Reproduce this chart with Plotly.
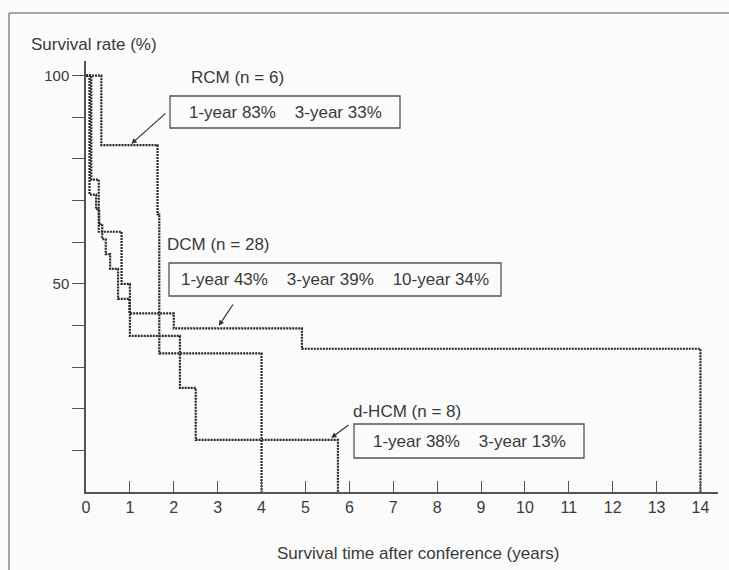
import plotly.graph_objects as go

# ---- data ----
rcm_t = [0, 0.35, 1.63, 1.67, 4.0]
rcm_s = [100, 83.3, 66.7, 33.3, 0]

dcm_t = [0, 0.08, 0.23, 0.30, 0.37, 0.45, 0.55, 0.73, 0.99, 2.0, 4.92, 14.0]
dcm_s = [100, 71.4, 67.9, 64.3, 60.7, 57.1, 53.6, 46.4, 42.9, 39.3, 34.4, 0]

hcm_t = [0, 0.12, 0.29, 0.81, 1.0, 2.14, 2.5, 5.74]
hcm_s = [100, 75.0, 62.5, 50.0, 37.5, 25.0, 12.5, 0]

x_ticks = list(range(0, 15))
y_ticks = [10, 20, 30, 40, 50, 60, 70, 80, 90, 100]
y_ticktext = ["", "", "", "", "50", "", "", "", "", "100"]

labels = ["RCM (n = 6)", "DCM (n = 28)", "d-HCM (n = 8)"]
GAP = "\u00a0\u00a0\u00a0 "
box_texts = ["1-year 83%" + GAP + "3-year 33%",
             "1-year 43%" + GAP + "3-year 39%" + GAP + "10-year 34%",
             "1-year 38%" + GAP + "3-year 13%"]

# ---- layout helpers (pixel -> paper) ----
L, R, T, B = 86, 718, 61, 492
W, H = R - L, B - T
XMAX, YMAX = 14.4, 103.5
def px(x):
    return (x - L) / W
def py(y):
    return (B - y) / H
def dx2px(v):
    return L + v * W / XMAX
def dy2py(v):
    return B - v * H / YMAX

FONT = "Liberation Sans, Arial, sans-serif"
INK = "#3a3a3a"
FS = 17

fig = go.Figure()
for t, s in [(rcm_t, rcm_s), (dcm_t, dcm_s), (hcm_t, hcm_s)]:
    fig.add_trace(go.Scatter(x=t, y=s, mode="lines", line_shape="hv",
                             line=dict(color="#262626", width=2.2, dash="2px,1px"),
                             showlegend=False, hoverinfo="skip"))

fig.update_layout(
    width=729, height=570,
    margin=dict(l=L, r=729 - R, t=T, b=570 - B),
    paper_bgcolor="#fbfbfb", plot_bgcolor="#fbfbfb",
    font=dict(family=FONT, size=FS, color=INK),
    showlegend=False,
)
fig.update_xaxes(range=[0, XMAX], tickvals=x_ticks, ticks="inside", ticklen=11,
                 tickcolor="#555", tickwidth=1.2, showgrid=False, zeroline=False,
                 showline=True, linecolor="#555", linewidth=1.5,
                 tickfont=dict(size=16, color=INK))
fig.update_yaxes(range=[0, YMAX], tickvals=y_ticks, ticktext=y_ticktext,
                 ticks="outside", ticklen=12, tickcolor="#555", tickwidth=1.2,
                 showgrid=False, zeroline=False, showline=True, linecolor="#555",
                 linewidth=1.5, tickfont=dict(size=15, color=INK))

shapes = []
# figure frame (left and top edges)
shapes.append(dict(type="line", xref="paper", yref="paper", x0=px(9), x1=px(9),
                   y0=py(13), y1=py(575), line=dict(color="#888", width=1.5)))
shapes.append(dict(type="line", xref="paper", yref="paper", x0=px(9), x1=px(740),
                   y0=py(13), y1=py(13), line=dict(color="#888", width=1.5)))
# text boxes
boxes = [(170, 96, 400, 128), (169, 263, 501, 296), (354, 424, 584, 458)]
for (x0, y0, x1, y1) in boxes:
    shapes.append(dict(type="rect", xref="paper", yref="paper",
                       x0=px(x0), x1=px(x1), y0=py(y1), y1=py(y0),
                       line=dict(color="#555", width=1.3), fillcolor="rgba(0,0,0,0)"))
fig.update_layout(shapes=shapes)

ann = []
# axis titles
ann.append(dict(text="Survival rate (%)", xref="paper", yref="paper", x=px(29), y=py(44),
                xanchor="left", yanchor="middle", showarrow=False, font=dict(size=FS)))
ann.append(dict(text="Survival time after conference (years)", xref="paper", yref="paper",
                x=px(418), y=py(553), xanchor="center", yanchor="middle", showarrow=False,
                font=dict(size=FS)))
# group labels
label_pos = [(189, 77), (165, 244), (351, 411)]
for lab, (x, y) in zip(labels, label_pos):
    ann.append(dict(text=lab, xref="paper", yref="paper", x=px(x), y=py(y),
                    xanchor="left", yanchor="middle", showarrow=False, font=dict(size=FS)))
# box texts
for txt, (x0, y0, x1, y1) in zip(box_texts, boxes):
    ann.append(dict(text=txt, xref="paper", yref="paper", x=px((x0 + x1) / 2),
                    y=py((y0 + y1) / 2), xanchor="center", yanchor="middle",
                    showarrow=False, font=dict(size=FS)))
# arrows (head at data point, tail in pixel space)
arrows = [((1.0, 83.3), (167, 112)), ((3.0, 39.5), (234, 303)), ((5.55, 12.7), (350, 424))]
for (hx, hy), (tx, ty) in arrows:
    ann.append(dict(x=hx, y=hy, xref="x", yref="y",
                    ax=tx - dx2px(hx), ay=ty - dy2py(hy),
                    axref="pixel", ayref="pixel", text="", showarrow=True,
                    arrowhead=2, arrowsize=0.9, arrowwidth=1.2, arrowcolor="#333",
                    standoff=2))
fig.update_layout(annotations=ann)

fig.write_html("out.html")
